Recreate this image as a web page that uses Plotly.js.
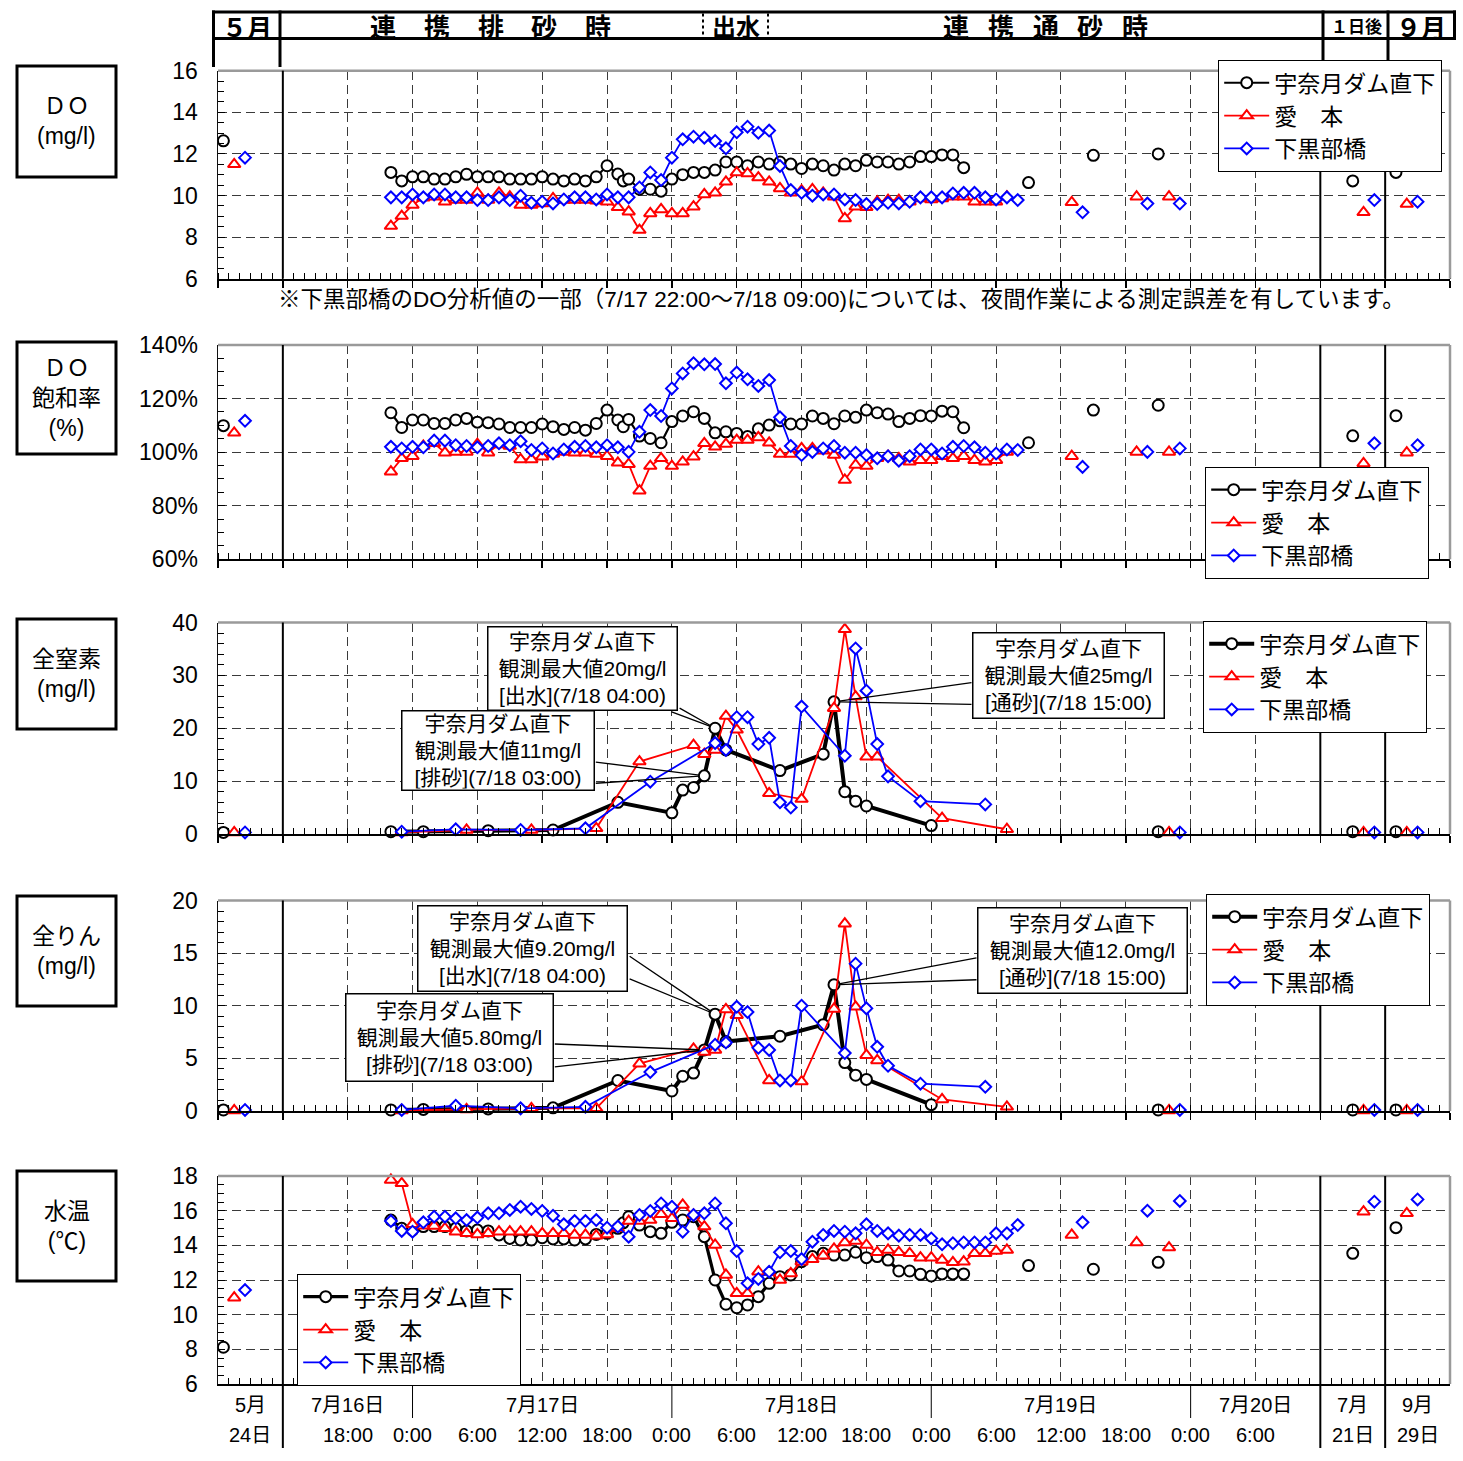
<!DOCTYPE html>
<html><head><meta charset="utf-8">
<script src="https://cdn.plot.ly/plotly-3.0.1.min.js"></script>
<style>html,body{margin:0;padding:0;background:#fff}</style>
</head><body><div id="chart" style="width:1463px;height:1461px"></div>
<script>
// ---- time axis: hours after 7/16 12:00 ; side sections: 5/24 -> [-6,0], 7/21 -> [96,102], 9/29 -> [102,108]
const hBlackHourly = [10,11,12,13,14,15,16,17,18,19,20,21,22,23,24,25,26,27,28,29,30,31,31.5,32,33,34,35,36,37,38,39,40,41,42,43,44,45,46,47,48,49,50,51,52,53,54,55,56,57,58,59,60,61,62,63];
const hRedHourly = [10,11,12,13,14,15,16,17,18,19,20,21,22,23,24,25,26,27,28,29,30,31,32,33,34,35,36,37,38,39,40,41,42,43,44,45,46,47,48,49,50,51,52,53,54,55,56,57,58,59,60,61,62,63,64,65,66,67];
const hBlueHourly = [10,11,12,13,14,15,16,17,18,19,20,21,22,23,24,25,26,27,28,29,30,31,32,33,34,35,36,37,38,39,40,41,42,43,44,45,46,47,48,49,50,51,52,53,54,55,56,57,58,59,60,61,62,63,64,65,66,67,68];
const hBlackSpot = [-5.5,69,75,81,99,103];
const hRedSpot = [-4.5,73,79,82,100,104];
const hBlueSpot = [-3.5,74,80,83,101,105];
const hBlackSpotQ = [-5.5,81,99,103];
const hRedSpotQ = [-4.5,82,100,104];
const hBlueSpotQ = [-3.5,83,101,105];

// ---- DO (mg/l)
const doBlack = [11.11,10.70,10.90,10.90,10.79,10.79,10.90,11.02,10.90,10.90,10.90,10.79,10.79,10.79,10.90,10.79,10.70,10.79,10.70,10.90,11.43,11.03,10.70,10.79,10.30,10.30,10.21,10.79,11.00,11.11,11.11,11.22,11.61,11.61,11.43,11.61,11.51,11.61,11.51,11.30,11.51,11.43,11.22,11.51,11.43,11.69,11.61,11.61,11.51,11.61,11.87,11.87,11.95,11.95,11.34];
const doRed = [8.53,9.01,9.54,9.89,9.94,9.70,9.78,9.78,10.13,9.78,10.13,9.94,9.54,9.54,9.62,9.86,9.78,9.78,9.78,9.75,9.70,9.43,9.22,8.34,9.14,9.33,9.14,9.14,9.46,10.05,10.13,10.66,11.10,11.06,10.86,10.66,10.34,10.13,10.23,10.29,10.13,9.94,8.90,9.46,9.43,9.70,9.78,9.78,9.70,9.86,9.81,9.86,9.94,9.94,9.70,9.70,9.70,9.94];
const doBlue = [9.91,9.91,10.05,9.91,10.05,10.05,9.91,9.91,9.78,9.78,9.91,9.78,9.99,9.65,9.70,9.62,9.81,9.91,9.91,9.81,10.05,9.91,9.91,10.39,11.11,10.74,11.82,12.70,12.83,12.78,12.62,12.27,13.04,13.31,13.02,13.12,11.42,10.26,10.13,9.99,10.05,10.05,9.81,9.78,9.59,9.59,9.65,9.62,9.70,9.91,9.91,9.91,10.10,10.13,10.13,9.91,9.81,9.91,9.78];
const doBlackSpot = [12.63,10.62,11.93,12.00,10.70,11.11];
const doRedSpot = [11.50,9.67,9.94,9.94,9.19,9.59];
const doBlueSpot = [11.82,9.19,9.61,9.61,9.78,9.70];

// ---- DO saturation (%)
const satBlack = [114.7,109.2,112.0,112.0,110.7,110.7,112.0,112.6,111.2,111.0,110.5,109.2,109.2,109.2,110.5,109.5,108.5,109.2,108.2,110.7,115.7,112.0,109.5,112.2,106.0,105.1,103.5,111.4,113.5,115.1,112.6,107.2,107.6,107.0,105.8,108.7,110.1,111.7,110.5,110.5,113.5,112.6,110.6,113.5,113.0,115.7,114.7,114.2,111.4,112.6,113.6,113.5,115.3,115.1,109.1];
const satRed = [92.7,97.7,98.5,102.3,103.3,99.8,100.1,100.1,103.0,99.8,102.9,102.3,97.3,97.3,98.3,99.3,100.1,99.8,99.8,99.3,98.5,96.0,95.5,85.6,94.8,97.7,94.8,96.4,98.3,103.3,102.0,103.0,104.5,104.5,105.5,103.5,99.3,99.3,101.4,101.4,100.5,98.9,89.6,95.2,94.8,97.7,98.5,97.7,96.4,97.0,97.0,98.5,97.7,98.5,97.0,96.4,97.0,100.1];
const satBlue = [102.0,101.4,102.0,101.8,104.3,104.3,102.6,102.3,101.8,102.3,103.3,102.6,104.1,100.8,101.4,99.5,101.0,102.0,102.3,101.8,102.6,101.8,100.1,107.6,115.7,113.5,123.8,129.4,133.2,132.8,132.9,125.7,129.7,127.2,124.7,126.9,113.0,102.3,98.9,100.1,101.4,102.3,99.8,99.8,98.9,97.7,98.5,96.8,98.5,101.0,101.0,99.5,102.0,102.3,101.8,99.8,99.5,101.0,100.8];
const satBlackSpot = [109.9,103.5,115.7,117.5,106.1,113.6];
const satRedSpot = [107.2,98.5,100.1,100.1,95.8,99.8];
const satBlueSpot = [111.7,94.5,100.1,101.4,103.3,102.6];

// ---- Total nitrogen (mg/l)
const tnBlackH = [10,13,19,25,31,36,37,38,39,40,41,46,50,51,52,53,54,60];
const tnBlack  = [0.44,0.44,0.63,0.76,6.0,4.0,8.3,8.8,11.0,20.0,15.9,12.0,15.1,25.0,8.0,6.2,5.3,1.6];
const tnRedH = [11,17,23,29,33,38,39,40,41,42,45,48,51,52,53,54,55,61,67];
const tnRed  = [0.3,0.76,0.76,1.07,13.7,16.8,15.1,15.9,22.3,19.7,7.7,6.6,23.8,38.7,26.0,14.6,14.6,3.0,0.9];
const tnBlueH = [11,16,22,28,34,40,41,42,43,44,45,46,47,48,52,53,54,55,56,59,65];
const tnBlue  = [0.44,0.88,0.76,1.07,9.9,17.2,15.9,22.1,22.1,17.0,18.2,6.0,5.0,24.1,14.8,35.1,27.1,17.0,10.9,6.2,5.6];
const tnBlackSpot = [0.3,0.44,0.44,0.44];
const tnRedSpot = [0.3,0.3,0.3,0.3];
const tnBlueSpot = [0.3,0.3,0.3,0.3];

// ---- Total phosphorus (mg/l)
const tpBlackH = tnBlackH, tpRedH = tnRedH, tpBlueH = tnBlueH;
const tpBlack = [0.1,0.15,0.2,0.3,2.9,1.9,3.3,3.6,5.8,9.2,6.6,7.1,8.2,12.0,4.6,3.4,3.0,0.6];
const tpRed   = [0.05,0.15,0.25,0.25,4.5,5.9,5.6,5.8,9.65,9.1,2.9,2.8,9.7,17.8,9.9,5.3,4.8,1.1,0.4];
const tpBlue  = [0.1,0.5,0.25,0.4,3.7,6.3,6.5,9.9,9.4,6.0,5.8,2.9,2.9,10.0,5.5,14.0,9.75,6.1,4.3,2.6,2.3];
const tpBlackSpot = [0.1,0.1,0.1,0.1];
const tpRedSpot = [0.05,0.05,0.05,0.05];
const tpBlueSpot = [0.1,0.1,0.1,0.1];

// ---- Water temperature (℃)
const wtBlack = [15.46,14.98,14.88,15.08,15.08,15.08,14.98,14.83,14.88,14.83,14.60,14.40,14.31,14.31,14.44,14.37,14.37,14.31,14.37,14.63,14.69,14.98,15.30,15.65,15.17,14.79,14.69,15.33,15.46,15.65,14.50,12.00,10.60,10.40,10.56,11.04,11.81,12.19,12.29,13.06,13.35,13.54,13.44,13.44,13.60,13.29,13.35,13.15,12.52,12.52,12.33,12.23,12.35,12.35,12.35];
const wtRed = [17.77,17.58,15.21,15.13,15.12,14.98,14.79,14.69,14.63,14.69,14.79,14.79,14.79,14.79,14.69,14.69,14.69,14.60,14.60,14.56,14.63,14.98,15.40,15.40,15.46,15.79,15.56,16.33,15.75,15.08,14.02,12.29,11.23,11.23,12.48,12.44,12.00,12.38,13.06,13.19,13.40,13.80,14.17,14.25,14.02,13.60,13.73,13.60,13.54,13.29,13.29,13.15,13.02,13.06,13.54,13.54,13.67,13.73];
const wtBlue = [15.40,14.83,14.79,15.33,15.65,15.65,15.56,15.46,15.60,15.85,15.85,16.04,16.23,16.10,15.98,15.71,15.21,15.40,15.40,15.46,15.02,15.08,14.50,15.75,15.98,16.42,16.23,14.79,15.75,15.85,16.42,15.27,13.67,11.81,12.06,12.48,13.60,13.67,13.21,14.21,14.60,14.83,14.79,14.69,15.21,14.83,14.69,14.56,14.60,14.60,14.40,14.06,14.12,14.17,14.17,14.17,14.69,14.69,15.17];
const wtBlackSpot = [8.12,12.83,12.62,13.02,13.54,15.02];
const wtRedSpot = [10.98,14.60,14.17,13.87,15.94,15.85];
const wtBlueSpot = [11.42,15.33,16.00,16.56,16.52,16.65];

// ---- labels
const stationNames = ['宇奈月ダム直下','愛　本','下黒部橋'];
const panelTitles = ['ＤＯ<br>(mg/l)','ＤＯ<br>飽和率<br>(%)','全窒素<br>(mg/l)','全りん<br>(mg/l)','水温<br>(℃)'];
const timeLabels = ['18:00','0:00','6:00','12:00','18:00','0:00','6:00','12:00','18:00','0:00','6:00','12:00','18:00','0:00','6:00'];
const timeHours = [6,12,18,24,30,36,42,48,54,60,66,72,78,84,90];
const dateLabels = ['7月16日','7月17日','7月18日','7月19日','7月20日'];
const dateHours = [6,24,48,72,90];
const sideLabels = [['5月','24日'],['7月','21日'],['9月','29日']];
const sideHours = [-3,99,105];
const noteText = '※下黒部橋のDO分析値の一部（7/17 22:00～7/18 09:00)については、夜間作業による測定誤差を有しています。';

// ================= build =================
const W=1463,H=1461;
const px=v=>v/W, py=v=>1-v/H;
const FJP='Noto Sans CJK JP, sans-serif';
const FMIX='Liberation Sans, Arial, Noto Sans CJK JP, sans-serif';
const COLORS=['#000000','#FF0000','#0000FF'];
const SYMS=['circle','triangle-up','diamond'];
const MSIZE=[11,11,9];

const panels=[
 {top:70.7,bot:278.7,range:[6,16],dtick:2,minor:0.5,suffix:'',lw:[2,1.8,1.8],
  series:[[hBlackHourly,doBlack,hBlackSpot,doBlackSpot],[hRedHourly,doRed,hRedSpot,doRedSpot],[hBlueHourly,doBlue,hBlueSpot,doBlueSpot]]},
 {top:345,bot:559.3,range:[60,140],dtick:20,minor:5,suffix:'%',lw:[2.2,1.8,1.8],
  series:[[hBlackHourly,satBlack,hBlackSpot,satBlackSpot],[hRedHourly,satRed,hRedSpot,satRedSpot],[hBlueHourly,satBlue,hBlueSpot,satBlueSpot]]},
 {top:622.5,bot:834,range:[0,40],dtick:10,minor:2,suffix:'',lw:[4,1.8,1.8],
  series:[[tnBlackH,tnBlack,hBlackSpotQ,tnBlackSpot],[tnRedH,tnRed,hRedSpotQ,tnRedSpot],[tnBlueH,tnBlue,hBlueSpotQ,tnBlueSpot]]},
 {top:900.5,bot:1111,range:[0,20],dtick:5,minor:1,suffix:'',lw:[4,1.8,1.8],
  series:[[tpBlackH,tpBlack,hBlackSpotQ,tpBlackSpot],[tpRedH,tpRed,hRedSpotQ,tpRedSpot],[tpBlueH,tpBlue,hBlueSpotQ,tpBlueSpot]]},
 {top:1176,bot:1384,range:[6,18],dtick:2,minor:0.5,suffix:'',lw:[3.2,1.8,1.8],
  series:[[hBlackHourly,wtBlack,hBlackSpot,wtBlackSpot],[hRedHourly,wtRed,hRedSpot,wtRedSpot],[hBlueHourly,wtBlue,hBlueSpot,wtBlueSpot]]},
];
const legendPos=[[1218,60],[1205,467],[1203,621],[1206,894],[297,1274]];
const boxPos=[[66,177],[342,454],[619,729],[896,1006],[1171,1281]];

const traces=[],shapes=[],annotations=[];
const layout={width:W,height:H,margin:{l:0,r:0,t:0,b:0},paper_bgcolor:'#fff',plot_bgcolor:'#fff',
  font:{family:FMIX,color:'#000'},showlegend:true,shapes,annotations};

panels.forEach((p,k)=>{
  const n=k+1, sx=n===1?'':String(n);
  const leg=n===1?'legend':'legend'+n;
  layout['xaxis'+sx]={domain:[px(218),px(1450)],range:[-6,108],anchor:'y'+sx,tick0:0,dtick:6,
    showgrid:true,gridcolor:'#3a3a3a',gridwidth:1,griddash:'9px,5px',
    ticks:n<5?'outside':'',ticklen:7,tickwidth:1.5,tickcolor:'#000',showticklabels:false,
    showline:true,linecolor:'#000',linewidth:2,zeroline:false,fixedrange:true,
    minor:{tick0:0,dtick:1,ticks:'inside',ticklen:6,tickwidth:1,tickcolor:'#000',showgrid:false}};
  layout['yaxis'+sx]={domain:[py(p.bot),py(p.top)],range:p.range,anchor:'x'+sx,tick0:p.range[0],dtick:p.dtick,
    ticksuffix:p.suffix,showgrid:true,gridcolor:'#3a3a3a',gridwidth:1,griddash:'9px,5px',
    ticks:'inside',ticklen:7,tickwidth:1,tickcolor:'#000',
    tickfont:{family:'Liberation Sans, Arial, sans-serif',size:23,color:'#000'},ticklabelstandoff:14,
    showline:true,linecolor:'#111',linewidth:1.5,zeroline:false,fixedrange:true,
    minor:{dtick:p.minor,ticks:'inside',ticklen:6,tickwidth:1,tickcolor:'#000',showgrid:false}};
  layout[leg]={x:px(legendPos[k][0]),y:py(legendPos[k][1]),xanchor:'left',yanchor:'top',xref:'paper',yref:'paper',
    bgcolor:'#fff',bordercolor:'#000',borderwidth:1.2,font:{family:FJP,size:23,color:'#000'},itemwidth:45,tracegroupgap:0};
  // series
  p.series.forEach((s,j)=>{
    const common={type:'scatter',xaxis:'x'+sx,yaxis:'y'+sx,cliponaxis:false,hoverinfo:'skip',legend:leg,
      marker:{symbol:SYMS[j],size:MSIZE[j],color:'#fff',line:{color:COLORS[j],width:2}}};
    traces.push(Object.assign({},common,{mode:'lines+markers',x:s[0],y:s[1],name:stationNames[j],
      line:{color:COLORS[j],width:p.lw[j]}}));
    traces.push(Object.assign({},common,{mode:'markers',x:s[2],y:s[3],name:stationNames[j],showlegend:false}));
  });
  // frame (top/right grey)
  shapes.push({type:'line',xref:'x'+sx+' domain',yref:'y'+sx+' domain',x0:0,x1:1,y0:1,y1:1,line:{color:'#9a9a9a',width:2.5},layer:'above'});
  shapes.push({type:'line',xref:'x'+sx+' domain',yref:'y'+sx+' domain',x0:1,x1:1,y0:0,y1:1,line:{color:'#9a9a9a',width:2.5},layer:'above'});
  // section separators
  [0,96,102].forEach(h=>shapes.push({type:'line',xref:'x'+sx,yref:'y'+sx+' domain',x0:h,x1:h,y0:0,y1:1,line:{color:'#000',width:2},layer:'above'}));
  // left title box
  const b=boxPos[k];
  shapes.push({type:'rect',xref:'paper',yref:'paper',x0:px(17),x1:px(116),y0:py(b[1]),y1:py(b[0]),line:{color:'#000',width:3}});
  annotations.push({xref:'paper',yref:'paper',x:px(66.5),y:py((b[0]+b[1])/2),text:panelTitles[k],showarrow:false,
    font:{family:FMIX,size:23,color:'#000'},align:'center',xanchor:'center',yanchor:'middle'});
});

// bottom label area
[0,96,102].forEach(h=>shapes.push({type:'line',xref:'x5',yref:'paper',x0:h,x1:h,y0:py(1384),y1:py(1448),line:{color:'#000',width:2}}));
[12,36,60,84].forEach(h=>shapes.push({type:'line',xref:'x5',yref:'paper',x0:h,x1:h,y0:py(1386),y1:py(1418),line:{color:'#000',width:1}}));
const labFont={family:FMIX,size:20,color:'#000'};
timeLabels.forEach((t,i)=>annotations.push({xref:'x5',yref:'paper',x:timeHours[i],y:py(1435),text:t,showarrow:false,
  font:labFont,xanchor:'center',yanchor:'middle'}));
dateLabels.forEach((t,i)=>annotations.push({xref:'x5',yref:'paper',x:dateHours[i],y:py(1405),text:t,showarrow:false,
  font:labFont,xanchor:'center',yanchor:'middle'}));
sideLabels.forEach((t,i)=>{
  annotations.push({xref:'x5',yref:'paper',x:sideHours[i],y:py(1405),text:t[0],showarrow:false,font:labFont,xanchor:'center',yanchor:'middle'});
  annotations.push({xref:'x5',yref:'paper',x:sideHours[i],y:py(1435),text:t[1],showarrow:false,font:labFont,xanchor:'center',yanchor:'middle'});
});

// note under DO panel
annotations.push({xref:'paper',yref:'paper',x:px(841),y:py(300),text:noteText,showarrow:false,
  font:{family:FMIX,size:22.5,color:'#000'},xanchor:'center',yanchor:'middle'});

// header table
function hl(x0,x1,y,w,d){shapes.push({type:'line',xref:'paper',yref:'paper',x0:px(x0),x1:px(x1),y0:py(y),y1:py(y),line:{color:'#000',width:w,dash:d||'solid'}});}
function vl(x,y0,y1,w,d){shapes.push({type:'line',xref:'paper',yref:'paper',x0:px(x),x1:px(x),y0:py(y0),y1:py(y1),line:{color:'#000',width:w,dash:d||'solid'}});}
hl(212,1456,12,3); hl(212,1456,38.5,3);
vl(213.5,10.5,67,3); vl(280,10.5,67,3); vl(1323,10.5,67,3); vl(1388,10.5,67,3); vl(1454.5,10.5,38.5,3);
vl(703,13.5,37,2,'dot'); vl(768,13.5,37,2,'dot');
function ht(x,text,size){annotations.push({xref:'paper',yref:'paper',x:px(x),y:py(25.5),text:'<b>'+text+'</b>',showarrow:false,
  font:{family:FJP,size:size,color:'#000'},xanchor:'center',yanchor:'middle'});}
ht(247,'５月',25); ht(736,'出水',24); ht(1356,'１日後',17); ht(1421,'９月',25);
['連','携','排','砂','時'].forEach((c,i)=>ht(383+i*53.75,c,26));
['連','携','通','砂','時'].forEach((c,i)=>ht(956+i*44.75,c,26));

// callouts (max values of 宇奈月ダム直下)
const callouts=[
 {ax:'x3',ay:'y3',h:40,v:20,box:[582,668,186,80],tails:[[-45,-17],[-37,-21]],text:'宇奈月ダム直下<br>観測最大値20mg/l<br>[出水](7/18 04:00)'},
 {ax:'x3',ay:'y3',h:39,v:11,box:[497.5,750.5,189,76],tails:[[-110,-14],[-110,7.5]],text:'宇奈月ダム直下<br>観測最大値11mg/l<br>[排砂](7/18 03:00)'},
 {ax:'x3',ay:'y3',h:51,v:25,box:[1068,675.5,188,82],tails:[[139,-19.5],[139,2.5]],text:'宇奈月ダム直下<br>観測最大値25mg/l<br>[通砂](7/18 15:00)'},
 {ax:'x4',ay:'y4',h:40,v:9.2,box:[522,948.5,206,82],tails:[[-87,-59],[-87,-36]],text:'宇奈月ダム直下<br>観測最大値9.20mg/l<br>[出水](7/18 04:00)'},
 {ax:'x4',ay:'y4',h:39,v:5.8,box:[449,1037.5,204,84],tails:[[-151,-6],[-151,17]],text:'宇奈月ダム直下<br>観測最大値5.80mg/l<br>[排砂](7/18 03:00)'},
 {ax:'x4',ay:'y4',h:51,v:12.0,box:[1082,950.5,206,82],tails:[[144,-27],[144,-5]],text:'宇奈月ダム直下<br>観測最大値12.0mg/l<br>[通砂](7/18 15:00)'},
];
callouts.forEach(c=>{
  c.tails.forEach(t=>annotations.push({xref:c.ax,yref:c.ay,x:c.h,y:c.v,ax:t[0],ay:t[1],text:'',showarrow:true,
    arrowhead:0,arrowwidth:1.3,arrowcolor:'#000',standoff:5}));
});
callouts.forEach(c=>{
  annotations.push({xref:'paper',yref:'paper',x:px(c.box[0]),y:py(c.box[1]),width:c.box[2],height:c.box[3],text:c.text,showarrow:false,
    bgcolor:'#fff',bordercolor:'#000',borderwidth:1.5,borderpad:1,align:'center',xanchor:'center',yanchor:'middle',
    font:{family:FMIX,size:21,color:'#000'}});
});

Plotly.newPlot('chart',traces,layout,{staticPlot:true,displayModeBar:false});
</script></body></html>
